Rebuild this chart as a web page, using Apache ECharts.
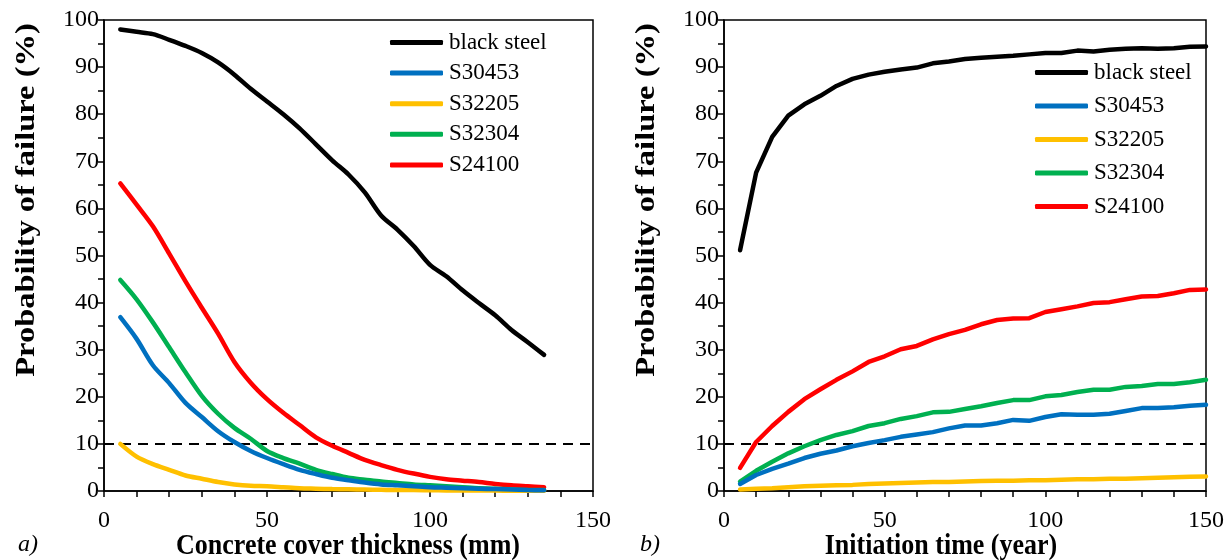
<!DOCTYPE html>
<html>
<head>
<meta charset="utf-8">
<script src="https://cdn.jsdelivr.net/npm/echarts@6/dist/echarts.min.js"></script>
<style>
  html, body { margin: 0; padding: 0; background: #fff; }
  #chart { width: 1232px; height: 560px; }
</style>
</head>
<body>
<div id="chart"></div>
<script>
// a) concrete cover thickness (mm)
const coverX = [5, 10, 15, 20, 25, 30, 35, 40, 45, 50, 55, 60, 65, 70, 75, 80, 85, 90, 95, 100, 105, 110, 115, 120, 125, 130, 135];
const coverBlack = [98, 97.5, 97, 95.8, 94.5, 93, 91, 88.4, 85.4, 82.7, 80, 77, 73.6, 70.2, 67.2, 63.4, 58.5, 55.5, 52, 48, 45.6, 42.6, 39.9, 37.3, 34.2, 31.6, 28.9];
const coverS30453 = [36.9, 32.3, 26.7, 22.9, 18.7, 15.7, 12.7, 10.4, 8.5, 7.0, 5.7, 4.5, 3.6, 2.8, 2.3, 1.8, 1.4, 1.2, 1.0, 0.8, 0.7, 0.6, 0.5, 0.4, 0.3, 0.2, 0.15];
const coverS32205 = [10, 7.3, 5.7, 4.5, 3.3, 2.6, 1.9, 1.4, 1.1, 1.0, 0.8, 0.6, 0.5, 0.4, 0.35, 0.3, 0.25, 0.2, 0.2, 0.15, 0.12, 0.1, 0.1, 0.08, 0.06, 0.05, 0.05];
const coverS32304 = [44.8, 40.7, 35.8, 30.5, 25.2, 20.2, 16.4, 13.4, 11.1, 8.5, 7.0, 5.8, 4.5, 3.6, 2.8, 2.4, 2.0, 1.7, 1.4, 1.2, 1.0, 0.8, 0.6, 0.5, 0.3, 0.2, 0.2];
const coverS24100 = [65.3, 60.8, 56.2, 50.4, 44.5, 38.9, 33.4, 27.4, 23.0, 19.5, 16.6, 14.0, 11.4, 9.6, 8.1, 6.6, 5.5, 4.5, 3.7, 3.0, 2.5, 2.2, 1.9, 1.5, 1.2, 1.0, 0.8];

// b) initiation time (year)
const timeX = [5, 10, 15, 20, 25, 30, 35, 40, 45, 50, 55, 60, 65, 70, 75, 80, 85, 90, 95, 100, 105, 110, 115, 120, 125, 130, 135, 140, 145, 150];
const timeBlack = [51.1, 67.6, 75.2, 79.7, 82.1, 83.9, 86.0, 87.5, 88.4, 89.0, 89.5, 89.9, 90.8, 91.2, 91.7, 92.0, 92.2, 92.4, 92.7, 93.0, 93.0, 93.5, 93.3, 93.7, 93.9, 94.0, 93.9, 94.0, 94.3, 94.4];
const timeS30453 = [1.5, 3.4, 4.7, 5.8, 7.0, 7.9, 8.6, 9.5, 10.2, 10.8, 11.5, 12.0, 12.5, 13.3, 13.9, 13.9, 14.4, 15.1, 14.9, 15.7, 16.3, 16.2, 16.2, 16.4, 17.0, 17.6, 17.6, 17.8, 18.1, 18.3];
const timeS32205 = [0.3, 0.5, 0.6, 0.8, 1.0, 1.1, 1.2, 1.3, 1.5, 1.6, 1.7, 1.8, 1.9, 1.9, 2.0, 2.1, 2.2, 2.2, 2.3, 2.3, 2.4, 2.5, 2.5, 2.6, 2.6, 2.7, 2.8, 2.9, 3.0, 3.1];
const timeS32304 = [2.0, 4.3, 6.2, 8.0, 9.5, 10.8, 11.9, 12.7, 13.8, 14.4, 15.3, 15.9, 16.7, 16.8, 17.4, 18.0, 18.7, 19.3, 19.3, 20.1, 20.4, 21.0, 21.5, 21.5, 22.1, 22.3, 22.7, 22.7, 23.1, 23.6];
const timeS24100 = [4.9, 10.4, 13.8, 16.8, 19.5, 21.6, 23.6, 25.4, 27.4, 28.6, 30.1, 30.8, 32.2, 33.3, 34.2, 35.4, 36.3, 36.6, 36.7, 38.0, 38.6, 39.2, 39.9, 40.1, 40.7, 41.3, 41.4, 42.0, 42.7, 42.8];

const names = ['black steel', 'S30453', 'S32205', 'S32304', 'S24100'];
const colors = ['#000000', '#0070C0', '#FFC000', '#00B050', '#FF0000'];
const threshold = 10;

const FONT = 'Liberation Serif';

function pairs(xs, ys) {
  return xs.map((x, i) => [x, ys[i]]);
}

function makeXAxis(idx) {
  return {
    type: 'value', gridIndex: idx, min: 0, max: 150, interval: 50,
    axisLine: { show: true, lineStyle: { color: '#000', width: 1.5 } },
    axisTick: { show: true, length: 6, lineStyle: { color: '#000', width: 1.5 } },
    minorTick: { show: true, splitNumber: 5, length: 6, lineStyle: { color: '#000', width: 1.5 } },
    axisLabel: { fontFamily: FONT, fontSize: 24, color: '#000', margin: 18 },
    splitLine: { show: false }
  };
}

function makeYAxis(idx) {
  return {
    type: 'value', gridIndex: idx, min: 0, max: 100, interval: 10,
    axisLine: { show: true, lineStyle: { color: '#000', width: 1.5 } },
    axisTick: { show: true, length: 6, lineStyle: { color: '#000', width: 1.5 } },
    minorTick: { show: true, splitNumber: 2, length: 6, lineStyle: { color: '#000', width: 1.5 } },
    axisLabel: { fontFamily: FONT, fontSize: 24, color: '#000', margin: 5 },
    splitLine: { show: false }
  };
}

const leftData = [coverBlack, coverS30453, coverS32205, coverS32304, coverS24100];
const rightData = [timeBlack, timeS30453, timeS32205, timeS32304, timeS24100];

const series = [];
names.forEach((n, i) => {
  series.push({
    name: n, type: 'line', xAxisIndex: 0, yAxisIndex: 0,
    data: pairs(coverX, leftData[i]), symbol: 'none', smooth: 0.3,
    lineStyle: { color: colors[i], width: 4.5, cap: 'round' },
    itemStyle: { color: colors[i] },
    z: 10 - i
  });
});
names.forEach((n, i) => {
  series.push({
    name: n, type: 'line', xAxisIndex: 1, yAxisIndex: 1,
    data: pairs(timeX, rightData[i]), symbol: 'none',
    lineStyle: { color: colors[i], width: 4.5, cap: 'round', join: 'round' },
    itemStyle: { color: colors[i] },
    z: 10 - i
  });
});
// dashed 10% threshold lines
[0, 1].forEach(k => {
  series.push({
    type: 'line', xAxisIndex: k, yAxisIndex: k, data: [], silent: true,
    markLine: {
      silent: true, symbol: 'none', label: { show: false },
      lineStyle: { color: '#000', type: [10, 7], width: 2 },
      data: [{ yAxis: threshold }]
    }
  });
});

function makeLegend(left, top, gap) {
  return {
    data: names, orient: 'vertical', left: left, top: top, padding: 0,
    itemWidth: 53, itemHeight: 5, itemGap: gap,
    icon: 'roundRect',
    textStyle: { fontFamily: FONT, fontSize: 23, color: '#000', lineHeight: 22, padding: [0, 0, 0, 1] },
    selectedMode: false
  };
}

// axis titles (drawn as text so they can be stretched like the reference)
function title(x, y, text, rot, sx, sy) {
  return {
    type: 'text', x: x, y: y, rotation: rot, scaleX: sx, scaleY: sy, silent: true,
    style: { text: text, font: 'bold 26px "Liberation Serif"', fill: '#000', align: 'center', verticalAlign: 'middle' }
  };
}

const chart = echarts.init(document.getElementById('chart'), null, { renderer: 'canvas' });
chart.setOption({
  animation: false,
  backgroundColor: '#fff',
  grid: [
    { left: 104, top: 20, width: 489, bottom: 69, show: true, borderColor: '#000', borderWidth: 1.5 },
    { left: 724, top: 20, width: 482, bottom: 69, show: true, borderColor: '#000', borderWidth: 1.5 }
  ],
  xAxis: [makeXAxis(0), makeXAxis(1)],
  yAxis: [makeYAxis(0), makeYAxis(1)],
  legend: [makeLegend(390, 31, 7.6), makeLegend(1035, 61, 10.5)],
  graphic: [
    title(27, 200, 'Probability of failure (%)', Math.PI / 2, 1.25, 1.05),
    title(647, 200, 'Probability of failure (%)', Math.PI / 2, 1.25, 1.05),
    title(348, 546, 'Concrete cover thickness (mm)', 0, 1, 1.15),
    title(941, 546, 'Initiation time (year)', 0, 1, 1.15),
    { type: 'text', left: 18, top: 533, style: { text: 'a)', font: 'italic 24px "Liberation Serif"', fill: '#000' } },
    { type: 'text', left: 640, top: 533, style: { text: 'b)', font: 'italic 24px "Liberation Serif"', fill: '#000' } }
  ],
  series: series
});
</script>
</body>
</html>
